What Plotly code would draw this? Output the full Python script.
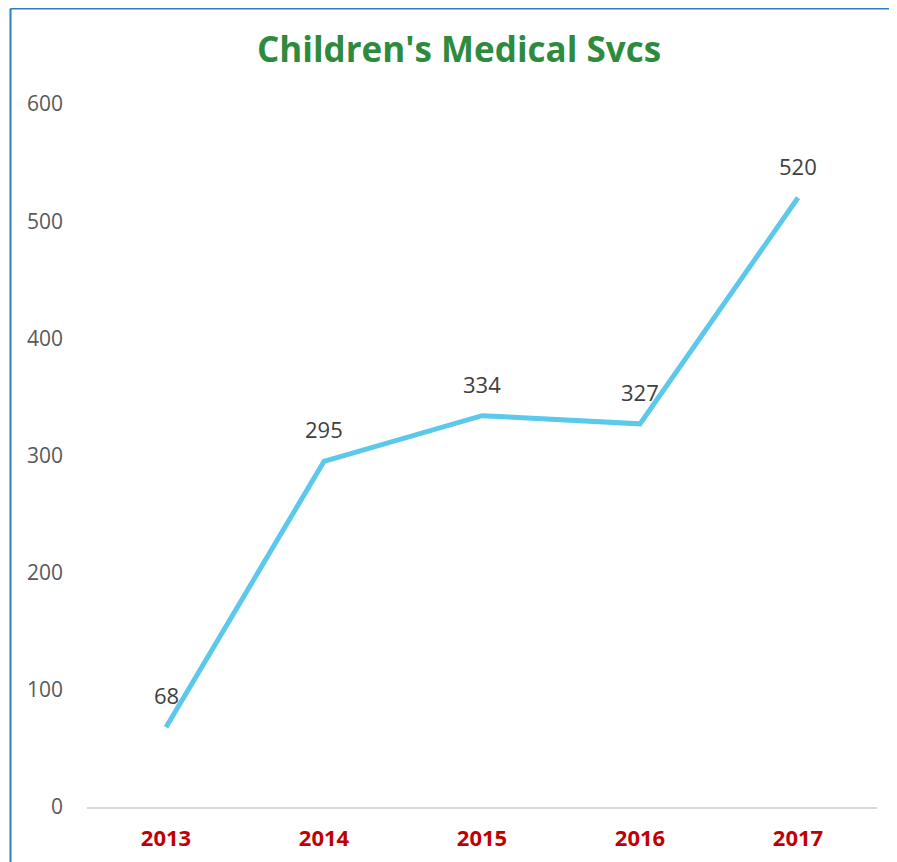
import plotly.graph_objects as go

years = ["2013", "2014", "2015", "2016", "2017"]
values = [68, 295, 334, 327, 520]
y_ticks = [0, 100, 200, 300, 400, 500, 600]
title_text = "Children's Medical Svcs"

fig = go.Figure()
fig.add_trace(go.Scatter(
    x=years, y=values, mode="lines",
    line=dict(color="#5BC8EC", width=5),
    hoverinfo="skip", showlegend=False,
))

for i, v in enumerate(values):
    fig.add_annotation(x=i, y=v, text=str(v), showarrow=False, yshift=32,
                       font=dict(family="Open Sans", size=22, color="#404040"))

# plot area: page offset of 8px (body margin) compensated
L, R, T, B = 79, 28, 96, 63
W, H = 897, 862
pw, ph = W - L - R, H - T - B
top_paper = (H - B - 0.5) / ph
left_paper = (2.5 - L) / pw

fig.update_layout(
    width=W, height=H,
    margin=dict(l=L, r=R, t=T, b=B),
    paper_bgcolor="white", plot_bgcolor="white",
    title=dict(text="<b>" + title_text + "</b>", x=451 / W, xanchor="center",
               y=1 - 42 / H, yanchor="middle",
               font=dict(family="Open Sans", size=35, color="#2E8B3E")),
    xaxis=dict(type="category", range=[-0.5, 4.5], showgrid=False, showline=True,
               linecolor="#D9D9D9", linewidth=2, ticks="", ticklabelstandoff=11,
               tickfont=dict(family="Open Sans", size=22, color="#C00000", weight="bold")),
    yaxis=dict(range=[0, 600], tickvals=y_ticks, showgrid=False, zeroline=False,
               showline=False, ticks="", ticklabelstandoff=23,
               tickfont=dict(family="Open Sans", size=21, color="#595959")),
    shapes=[
        dict(type="line", xref="paper", yref="paper",
             x0=left_paper, x1=left_paper, y0=-(B + 20) / ph, y1=top_paper,
             line=dict(color="#2E7CC4", width=2), layer="above"),
        dict(type="line", xref="paper", yref="paper",
             x0=left_paper, x1=(W + 10 - L) / pw, y0=top_paper, y1=top_paper,
             line=dict(color="#2E7CC4", width=2), layer="above"),
    ],
)

fig.write_html("out.html")
